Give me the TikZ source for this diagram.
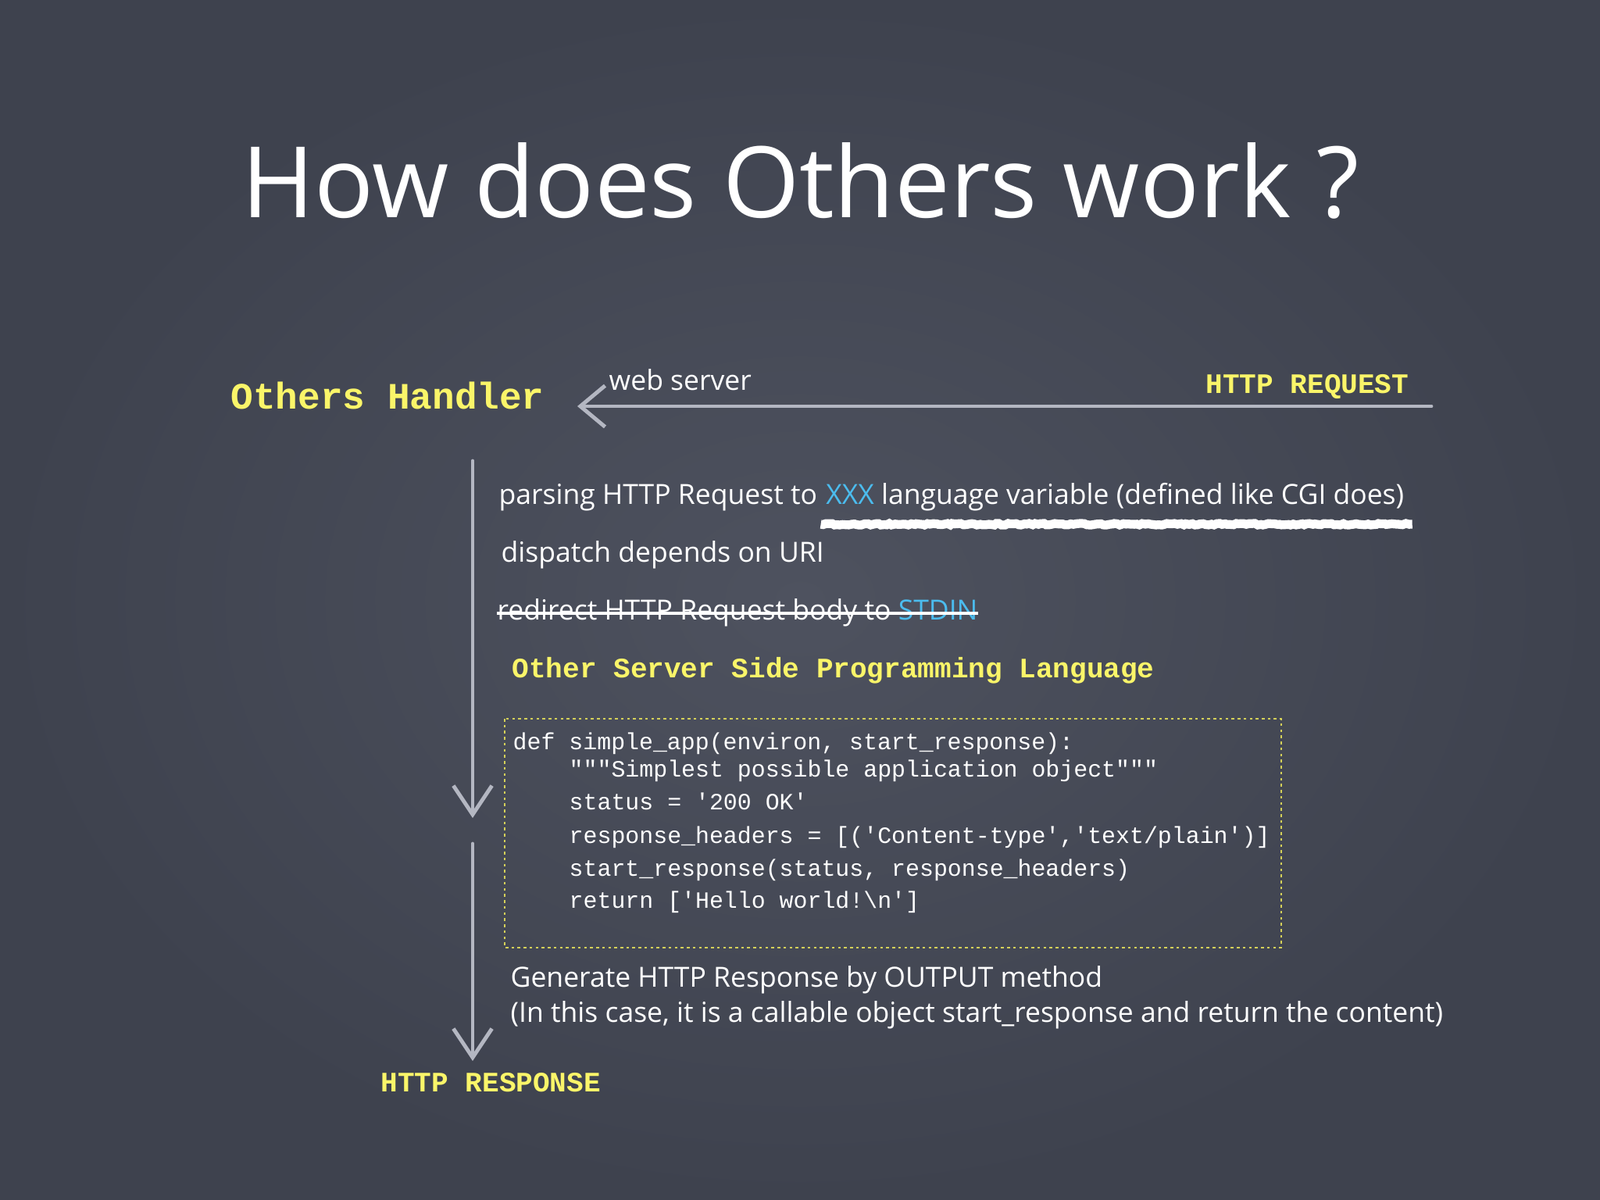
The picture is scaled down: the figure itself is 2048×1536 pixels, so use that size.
\documentclass[tikz,border=0pt]{standalone}
\usepackage{fontspec}
\setmainfont{Open Sans}
\setmonofont{Liberation Mono}
\usepackage{tikz}
\usetikzlibrary{arrows.meta}
\usetikzlibrary{decorations.pathmorphing}
\usetikzlibrary{positioning}

\definecolor{board}{RGB}{78,82,95}
\definecolor{boardedge}{RGB}{62,66,78}
\definecolor{chalk}{RGB}{180,183,194}
\definecolor{hiyellow}{RGB}{250,245,105}
\definecolor{hicyan}{RGB}{75,188,238}

\tikzset{
  body/.style={anchor=base west,inner sep=0pt,text=white,font=\fontsize{10.1}{12}\selectfont},
  tag/.style={anchor=base west,inner sep=0pt,text=hiyellow,font=\ttfamily\bfseries\fontsize{10.25}{12}\selectfont},
  codeline/.style={anchor=base west,inner sep=0pt,text=white,font=\ttfamily\fontsize{8.5}{10}\selectfont},
  chalkarrow/.style={draw=chalk,line width=1.4pt,line cap=round},
  scrawl/.style={draw=white,line width=3.2pt,decorate,decoration={random steps,segment length=1pt,amplitude=0.3pt}},
  codeframe/.style={draw=hiyellow!85!black,line width=0.6pt,dash pattern=on 1pt off 1.2pt}
}

\begin{document}
\begin{tikzpicture}[x=0.01cm,y=-0.01cm]
  \shade[inner color=board,outer color=boardedge] (0,0) rectangle (2048,1536);
  \useasboundingbox (0,0) rectangle (2048,1536);

  \node[body,font=\fontsize{35.9}{42}\selectfont] (title) at (309,278) {How does Others work ?};

  \node[tag,font=\ttfamily\bfseries\fontsize{13.57}{16}\selectfont] (handler) at (295,523) {Others Handler};
  \node[body] (web) at (779,499) {web server};
  \node[tag] (req) at (1543,503) {HTTP REQUEST};
  \coordinate (reqstart) at (1832,520);
  \coordinate (reqend) at (739,520);
  \draw[chalkarrow,-{Straight Barb[length=9pt,width=15pt]}] (reqstart) -- (reqend);

  \coordinate (flowtop) at (605,590);
  \coordinate (flowmid) at (605,1047);
  \coordinate (flowrestart) at (605,1080);
  \coordinate (flowend) at (605,1358);
  \draw[chalkarrow,-{Straight Barb[length=10.5pt,width=14pt]}] (flowtop) -- (flowmid);
  \draw[chalkarrow,-{Straight Barb[length=10.5pt,width=14pt]}] (flowrestart) -- (flowend);

  \node[body] (parse) at (638,645) {parsing HTTP Request to};
  \node[body] (lang) at ([xshift=2.8pt]parse.base east) {\textcolor{hicyan}{XXX} language variable (defined like CGI does)};
  \draw[scrawl] ([xshift=-1.7pt,yshift=-7.4pt]lang.base west) -- ([xshift=2.8pt,yshift=-7.4pt]lang.base east);

  \node[body] (dispatch) at (641,719) {dispatch depends on URI};
  \node[body] (redir) at (636,793) {redirect HTTP Request body to \textcolor{hicyan}{STDIN}};
  \draw[white,line width=0.9pt] ([yshift=2.3pt]redir.base west) -- ([yshift=2.3pt]redir.base east);

  \node[tag] (lang2) at (655,867) {Other Server Side Programming Language};

  \draw[codeframe] (646,920) rectangle (1640,1213);
  \node[codeline] (c1) at (656,959) {def simple\_app(environ, start\_response):};
  \node[codeline] (c2) at (728,994) {"""Simplest possible application object"""};
  \node[codeline] (c3) at (728,1036) {status = '200 OK'};
  \node[codeline] (c4) at (728,1079) {response\_headers = [('Content-type','text/plain')]};
  \node[codeline] (c5) at (728,1121) {start\_response(status, response\_headers)};
  \node[codeline] (c6) at (728,1162) {return ['Hello world!\textbackslash n']};

  \node[body] (gen) at (653,1263) {Generate HTTP Response by OUTPUT method};
  \node[body] (case) at (653,1308) {(In this case, it is a callable object start\_response and return the content)};

  \node[tag] (resp) at (487,1397) {HTTP RESPONSE};
\end{tikzpicture}
\end{document}
